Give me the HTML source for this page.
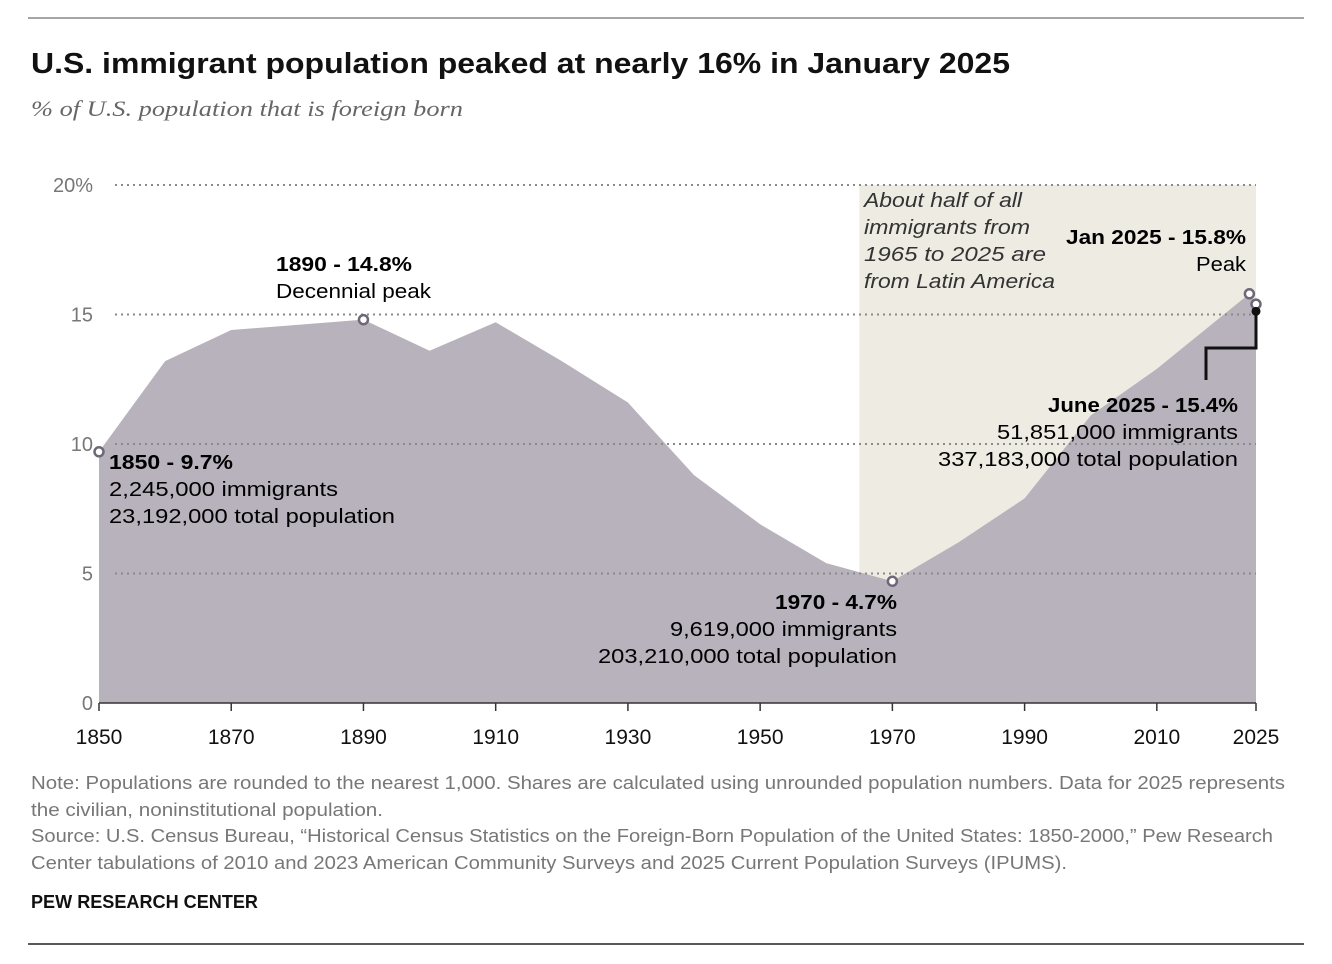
<!DOCTYPE html>
<html><head><meta charset="utf-8"><style>
body{margin:0;background:#fff;width:1332px;height:964px;overflow:hidden;font-family:"Liberation Sans",sans-serif}
svg{position:absolute;left:0;top:0}
</style></head><body>
<svg width="1332" height="964">
<line x1="28" y1="18" x2="1304" y2="18" stroke="#888" stroke-width="1.5"/>
<text x="31" y="73" font-size="29" font-weight="bold" fill="#111" textLength="979" lengthAdjust="spacingAndGlyphs">U.S. immigrant population peaked at nearly 16% in January 2025</text>
<text x="31" y="116" font-size="22" font-style="italic" fill="#666" font-family="Liberation Serif,serif" textLength="432" lengthAdjust="spacingAndGlyphs">% of U.S. population that is foreign born</text>
<g id="plot"></g>
<g font-size="20" fill="#000">
<text x="864" y="207" font-style="italic" fill="#333" textLength="158" lengthAdjust="spacingAndGlyphs">About half of all</text>
<text x="864" y="234" font-style="italic" fill="#333" textLength="166" lengthAdjust="spacingAndGlyphs">immigrants from</text>
<text x="864" y="261" font-style="italic" fill="#333" textLength="182" lengthAdjust="spacingAndGlyphs">1965 to 2025 are</text>
<text x="864" y="288" font-style="italic" fill="#333" textLength="191" lengthAdjust="spacingAndGlyphs">from Latin America</text>
<text x="1246" y="244" text-anchor="end" font-weight="bold" textLength="180" lengthAdjust="spacingAndGlyphs">Jan 2025 - 15.8%</text>
<text x="1246" y="271" text-anchor="end" textLength="50" lengthAdjust="spacingAndGlyphs">Peak</text>
<text x="276" y="271" font-weight="bold" textLength="136" lengthAdjust="spacingAndGlyphs">1890 - 14.8%</text>
<text x="276" y="298" textLength="155" lengthAdjust="spacingAndGlyphs">Decennial peak</text>
<text x="109" y="469" font-weight="bold" textLength="124" lengthAdjust="spacingAndGlyphs">1850 - 9.7%</text>
<text x="109" y="496" textLength="229" lengthAdjust="spacingAndGlyphs">2,245,000 immigrants</text>
<text x="109" y="523" textLength="286" lengthAdjust="spacingAndGlyphs">23,192,000 total population</text>
<text x="897" y="609" text-anchor="end" font-weight="bold" textLength="122" lengthAdjust="spacingAndGlyphs">1970 - 4.7%</text>
<text x="897" y="636" text-anchor="end" textLength="227" lengthAdjust="spacingAndGlyphs">9,619,000 immigrants</text>
<text x="897" y="663" text-anchor="end" textLength="299" lengthAdjust="spacingAndGlyphs">203,210,000 total population</text>
<text x="1238" y="412" text-anchor="end" font-weight="bold" textLength="190" lengthAdjust="spacingAndGlyphs">June 2025 - 15.4%</text>
<text x="1238" y="439" text-anchor="end" textLength="241" lengthAdjust="spacingAndGlyphs">51,851,000 immigrants</text>
<text x="1238" y="466" text-anchor="end" textLength="300" lengthAdjust="spacingAndGlyphs">337,183,000 total population</text>
</g>
<g font-size="18" fill="#777">
<text x="31" y="789" textLength="1254" lengthAdjust="spacingAndGlyphs">Note: Populations are rounded to the nearest 1,000. Shares are calculated using unrounded population numbers. Data for 2025 represents</text>
<text x="31" y="816" textLength="352" lengthAdjust="spacingAndGlyphs">the civilian, noninstitutional population.</text>
<text x="31" y="842" textLength="1242" lengthAdjust="spacingAndGlyphs">Source: U.S. Census Bureau, “Historical Census Statistics on the Foreign-Born Population of the United States: 1850-2000,” Pew Research</text>
<text x="31" y="869" textLength="1036" lengthAdjust="spacingAndGlyphs">Center tabulations of 2010 and 2023 American Community Surveys and 2025 Current Population Surveys (IPUMS).</text>
</g>
<text x="31" y="908" font-size="18" font-weight="bold" fill="#111" textLength="227" lengthAdjust="spacingAndGlyphs">PEW RESEARCH CENTER</text>
<line x1="28" y1="944" x2="1304" y2="944" stroke="#222" stroke-width="1.5"/>
</svg>
<script>
const years=[1850,1860,1870,1880,1890,1900,1910,1920,1930,1940,1950,1960,1970,1980,1990,2000,2010,2024,2025];
const shares=[9.7,13.2,14.4,14.6,14.8,13.6,14.7,13.2,11.6,8.8,6.9,5.4,4.7,6.2,7.9,11.1,12.9,15.8,15.4];
const yTicks=[0,5,10,15,20];
const yTickLabels=["0","5","10","15","20%"];
const xTicks=[1850,1870,1890,1910,1930,1950,1970,1990,2010,2025];
const markerYears=[1850,1890,1970,2024,2025];
const markerShares=[9.7,14.8,4.7,15.8,15.4];
const x=v=>99+(v-1850)*(1256-99)/175;
const y=v=>703-v*25.9;
const NS="http://www.w3.org/2000/svg";
const g=document.getElementById('plot');
function mk(t,a){const e=document.createElementNS(NS,t);for(const k in a)e.setAttribute(k,a[k]);g.appendChild(e);return e;}
const shade=mk('rect',{x:x(1965),y:y(20),width:x(2025)-x(1965),height:y(0)-y(20),fill:'#eeebe3'});


let d='M'+x(years[0])+','+y(0);
years.forEach((yr,i)=>{d+=' L'+x(yr)+','+y(shares[i]);});
d+=' L'+x(2025)+','+y(0)+'Z';
const area=mk('path',{d:d,fill:'#b8b2bc'});


yTicks.forEach((t,i)=>{
 if(t>0){const l=mk('line',{x1:115,x2:1256,y1:y(t),y2:y(t),stroke:'#8a8a8a','stroke-width':2,'stroke-dasharray':'2 4'});
 
 }
 const tx=mk('text',{x:93,y:y(t)+7,'text-anchor':'end','font-size':20,fill:'#777'});tx.textContent=yTickLabels[i];
 
 
});
const ax=mk('line',{x1:99,x2:1256,y1:y(0),y2:y(0),stroke:'#333','stroke-width':1.5});


xTicks.forEach(t=>{
 const l=mk('line',{x1:x(t),x2:x(t),y1:y(0),y2:y(0)+8,stroke:'#333','stroke-width':1.5});
 
 
 const tx=mk('text',{x:x(t),y:744,'text-anchor':'middle','font-size':21,fill:'#111'});tx.textContent=t;
 
 
});
const cl=mk('polyline',{points:`${x(2025)},${y(15.2)} ${x(2025)},348 1206,348 1206,380`,fill:'none',stroke:'#111','stroke-width':3});


markerYears.forEach((yr,i)=>{
 const c=mk('circle',{cx:x(yr),cy:y(markerShares[i]),r:4.5,fill:'#fff',stroke:'#6e6777','stroke-width':2.5});
 
 
});
const bd=mk('circle',{cx:x(2025),cy:y(15.2)+2,r:4.5,fill:'#111'});


</script>
</body></html>
